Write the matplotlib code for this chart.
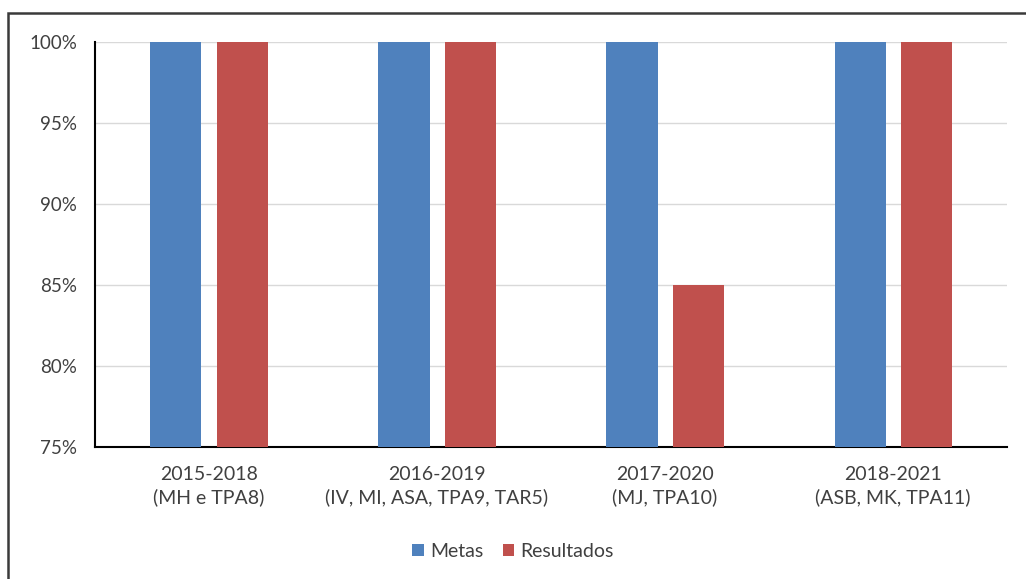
import numpy as np
from matplotlib import pyplot as plt
from matplotlib.patches import Rectangle
from matplotlib.ticker import PercentFormatter

categories = ["2015-2018\n(MH e TPA8)",
              "2016-2019\n(IV, MI, ASA, TPA9, TAR5)",
              "2017-2020\n(MJ, TPA10)",
              "2018-2021\n(ASB, MK, TPA11)"]
metas = [100, 100, 100, 100]
resultados = [100, 100, 85, 100]
y_ticks = [75, 80, 85, 90, 95, 100]


def main():
    plt.rcParams['font.family'] = ['Lato', 'DejaVu Sans']
    fig = plt.figure(figsize=(10.26, 5.79), dpi=100)

    # outer frame of the chart area (runs off the right and bottom edges)
    fig.patches.append(Rectangle((0.008, -0.05), 1.05, 1.0275,
                                 transform=fig.transFigure, fill=False,
                                 edgecolor='#3a3a3a', linewidth=1.8))

    ax = fig.add_axes([0.0926, 0.228, 0.889, 0.6995])
    x = np.arange(len(categories))
    w = 0.224
    off = 0.145
    ax.bar(x - off, metas, w, color='#4F81BD', label='Metas', zorder=3)
    ax.bar(x + off, resultados, w, color='#C0504D', label='Resultados', zorder=3)

    ax.set_xlim(-0.5, len(categories) - 0.5)
    ax.set_ylim(75, 100)
    ax.set_yticks(y_ticks)
    ax.yaxis.set_major_formatter(PercentFormatter(decimals=0))
    ax.set_xticks(x)
    ax.set_xticklabels(categories, fontsize=14, color='#404040', linespacing=1.35)
    ax.tick_params(axis='y', labelsize=13.5, labelcolor='#404040', length=0, pad=13)
    ax.tick_params(axis='x', length=0, pad=14)

    ax.grid(axis='y', color='#d9d9d9', linewidth=1, zorder=0)
    for side in ['top', 'right']:
        ax.spines[side].set_visible(False)
    ax.spines['left'].set_color('black')
    ax.spines['bottom'].set_color('black')
    ax.spines['left'].set_linewidth(1.5)
    ax.spines['bottom'].set_linewidth(1.5)

    fig.legend(loc='center', bbox_to_anchor=(0.5, 0.048), ncol=2, frameon=False,
               fontsize=14, handlelength=0.6, handleheight=0.6,
               handletextpad=0.3, columnspacing=1.0, labelcolor='#404040')

    fig.savefig('out.png', dpi=100)


if __name__ == "__main__":
    main()
